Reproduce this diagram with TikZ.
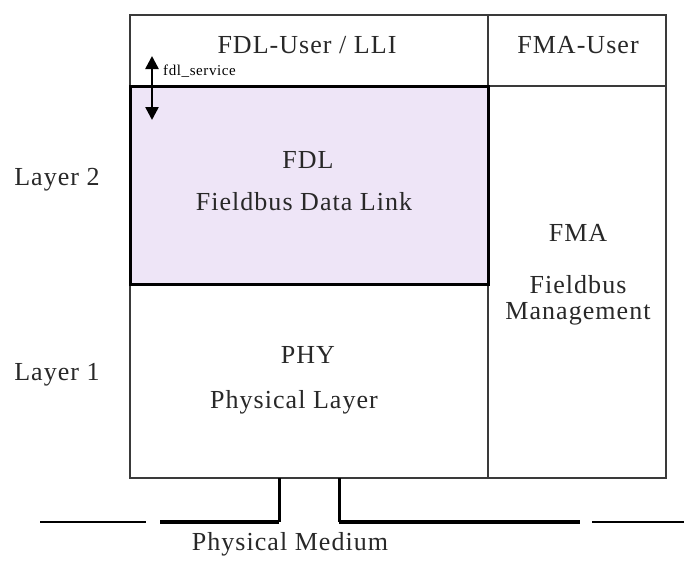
\documentclass[tikz,border=0pt]{standalone}
\usepackage{fontspec}
\setmainfont{Liberation Serif}[LetterSpace=4]
\usetikzlibrary{arrows.meta}
\definecolor{lav}{HTML}{EEE5F7}
\definecolor{txt}{HTML}{282828}
\definecolor{edge}{HTML}{3A3A3A}
\tikzset{
  lbl/.style={text=txt, font=\fontsize{26}{30}\selectfont, inner sep=0pt, align=center},
  small/.style={text=black, font=\fontsize{15}{17}\selectfont, inner sep=0pt, anchor=west},
  thinbox/.style={draw=edge, line width=1.5pt},
  thickbox/.style={draw=black, line width=3pt},
  medthick/.style={line width=4pt, black},
  medthin/.style={line width=1.5pt, black},
  stub/.style={line width=3pt, black}
}
\begin{document}
\begin{tikzpicture}[x=1pt,y=-1pt]
\useasboundingbox (0,0) rectangle (684,560);
\fill[white] (0,0) rectangle (684,560);
% outer frame
\draw[thinbox] (130,15) rectangle (666,478);
\draw[thinbox] (488,15) -- (488,478);
\draw[thinbox] (488,86) -- (666,86);
% FDL box
\fill[lav] (130,86) rectangle (488,284);
\draw[thickbox] (130,86) rectangle (488,284);
% texts
\node[lbl] (fdluser) at (307,45) {FDL-User / LLI};
\node[lbl] (fmauser) at (578,45) {FMA-User};
\node[lbl] (fdl) at (308,160) {FDL};
\node[lbl] (fdllong) at (304,202) {Fieldbus Data Link};
\node[lbl] (phy) at (308,355) {PHY};
\node[lbl] (phylong) at (294,402) {Physical Layer};
\node[lbl] (fma) at (578,233) {FMA};
\node[lbl] (fmalong) at (578,300) {Fieldbus\\[-4pt]Management};
\node[lbl] (l2) at (57,180) {Layer 2};
\node[lbl] (l1) at (57,375) {Layer 1};
\node[small] (svc) at (163,71) {fdl\_service};
\node[lbl] (medium) at (290,544) {Physical Medium};
% service arrow
\coordinate (au) at (152,56);
\coordinate (ad) at (152,120);
\draw[line width=2.5pt, {Triangle[length=13pt,width=13pt]}-{Triangle[length=13pt,width=13pt]}] (au) -- (ad);
% medium
\coordinate (s1t) at (279,478);
\coordinate (s1b) at (279,522);
\coordinate (s2t) at (339,478);
\coordinate (s2b) at (339,522);
\draw[stub] (s1t) -- (s1b);
\draw[stub] (s2t) -- (s2b);
\coordinate (m1) at (40,522);
\coordinate (m2) at (146,522);
\coordinate (m3) at (160,522);
\coordinate (m4) at (580,522);
\coordinate (m5) at (592,522);
\coordinate (m6) at (684,522);
\draw[medthin] (m1) -- (m2);
\draw[medthick] (m3) -- (s1b);
\draw[medthick] (s2b) -- (m4);
\draw[medthin] (m5) -- (m6);
\end{tikzpicture}
\end{document}
